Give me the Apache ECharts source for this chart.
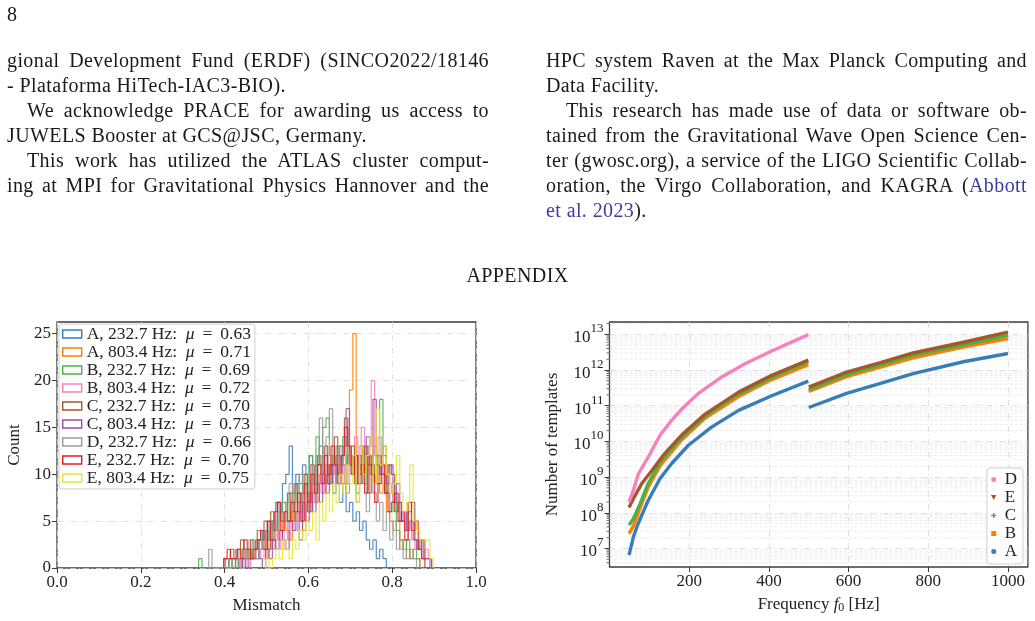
<!DOCTYPE html>
<html>
<head>
<meta charset="utf-8">
<script src="https://cdn.jsdelivr.net/npm/echarts@6/dist/echarts.min.js"></script>
<style>
  body { margin: 0; background: #fff; }
  #page { position: relative; width: 1035px; height: 621px; overflow: hidden; font-family: 'Liberation Serif', serif; color: #1a1a1a; }
  #chart { position: absolute; left: 0; top: 0; width: 1035px; height: 621px; }
  .ln { position: absolute; font-size: 20px; line-height: 25px; white-space: nowrap; letter-spacing: 0.4px; z-index: 2; }
  .j { text-align: justify; text-align-last: justify; white-space: normal; }
  .cite { color: #3b3ba3; }
</style>
</head>
<body>
<div id="page">
  <div id="chart"></div>

  <div class="ln" style="left:7px;top:1.5px">8</div>

  <!-- left column -->
  <div class="ln j" style="left:7px;top:47.5px;width:482px">gional Development Fund (ERDF) (SINCO2022/18146</div>
  <div class="ln" style="left:7px;top:72.5px">- Plataforma HiTech-IAC3-BIO).</div>
  <div class="ln j" style="left:27px;top:97.5px;width:462px">We acknowledge PRACE for awarding us access to</div>
  <div class="ln" style="left:7px;top:122.5px">JUWELS Booster at GCS@JSC, Germany.</div>
  <div class="ln j" style="left:27px;top:147.5px;width:462px">This work has utilized the ATLAS cluster comput-</div>
  <div class="ln j" style="left:7px;top:172.5px;width:482px">ing at MPI for Gravitational Physics Hannover and the</div>

  <!-- right column -->
  <div class="ln j" style="left:546px;top:47.5px;width:481px">HPC system Raven at the Max Planck Computing and</div>
  <div class="ln" style="left:546px;top:72.5px">Data Facility.</div>
  <div class="ln j" style="left:566px;top:97.5px;width:461px">This research has made use of data or software ob-</div>
  <div class="ln j" style="left:546px;top:122.5px;width:481px">tained from the Gravitational Wave Open Science Cen-</div>
  <div class="ln j" style="left:546px;top:147.5px;width:481px">ter (gwosc.org), a service of the LIGO Scientific Collab-</div>
  <div class="ln j" style="left:546px;top:172.5px;width:481px">oration, the Virgo Collaboration, and KAGRA (<span class="cite">Abbott</span></div>
  <div class="ln" style="left:546px;top:197.5px"><span class="cite">et al. 2023</span>).</div>

  <div class="ln" style="left:0;top:262.5px;width:1035px;text-align:center">APPENDIX</div>
</div>

<script>
// ---- left panel: mismatch histograms ----
const histNames = ['A, 232.7 Hz', 'A, 803.4 Hz', 'B, 232.7 Hz', 'B, 803.4 Hz', 'C, 232.7 Hz',
                   'C, 803.4 Hz', 'D, 232.7 Hz', 'E, 232.7 Hz', 'E, 803.4 Hz'];
const histMu = ['0.63', '0.71', '0.69', '0.72', '0.70', '0.73', '0.66', '0.70', '0.75'];
const histStart = [0.410, 0.402, 0.338, 0.430, 0.398, 0.442, 0.362, 0.398, 0.498];
const binWidth = 0.008;

const countsA232 = [1,0,1,0,1,2,1,2,3,2,4,3,5,4,7,6,9,10,13,8,10,9,11,10,12,9,11,13,10,9,11,8,10,7,9,6,7,5,6,4,5,3,2,3,1,2,1];
const countsA803 = [1,0,0,1,1,2,1,2,1,2,3,2,1,3,2,4,3,5,4,3,6,5,7,4,8,6,9,7,10,8,11,9,12,10,13,11,12,19,25,12,10,13,11,14,9,12,8,10,6,5,4,5,2,3,1,2,1,1];
const countsB232 = [1,0,0,0,0,0,0,0,0,1,0,1,0,2,1,1,2,1,3,2,4,3,5,4,6,7,5,8,7,9,6,10,8,12,9,14,11,15,16,12,10,13,11,14,9,12,10,8,11,9,12,10,13,11,18,12,8,6,7,4,3,2,3,1,2,1];
const countsB803 = [1,0,1,0,2,1,1,2,1,3,2,3,4,2,5,3,6,4,7,5,8,6,9,7,10,8,11,9,12,10,13,11,9,12,10,14,11,15,12,13,20,12,14,10,11,8,9,6,7,5,6,3,4,2,3,1,2,1];
const countsC232 = [1,1,2,1,2,3,2,1,3,2,4,3,5,2,6,4,7,5,6,8,5,9,7,8,10,6,11,9,12,10,13,9,11,14,10,12,16,11,13,9,12,10,13,8,11,9,12,10,8,11,10,6,7,5,4,6,7,3,2,3,1,1];
const countsC803 = [1,0,1,1,2,1,0,2,1,3,2,4,3,2,5,4,6,3,7,5,8,6,9,7,10,8,11,9,12,10,13,17,11,12,9,13,10,14,11,18,12,10,13,9,11,7,9,5,6,4,5,3,2,3,1,1];
const countsD232 = [2,0,0,0,0,1,0,1,2,1,2,1,3,2,1,3,2,4,3,5,4,6,5,7,9,6,8,10,7,9,11,8,12,16,10,14,17,12,9,13,11,8,12,10,7,11,9,6,10,8,5,7,4,6,3,5,2,3,1,2,1,1];
const countsE232 = [1,2,1,1,2,1,3,2,1,2,3,4,2,5,3,6,7,4,6,5,7,6,8,5,9,7,10,8,11,9,12,10,13,11,9,12,15,13,10,12,9,11,8,12,10,7,9,11,8,6,7,8,5,6,3,7,4,5,2,1];
const countsE803 = [1,0,1,2,1,3,2,1,3,2,4,3,5,4,6,3,7,5,8,6,9,7,10,8,11,9,12,7,13,10,12,14,9,17,11,13,10,8,9,12,8,6,7,11,5,4,3,3,3,1];
const histCounts = [countsA232, countsA803, countsB232, countsB803, countsC232,
                    countsC803, countsD232, countsE232, countsE803];
const histColors = ['#377eb8', '#ff7f00', '#4daf4a', '#f781bf', '#a65628',
                    '#984ea3', '#999999', '#e41a1c', '#e5e52e'];

// ---- right panel: number of templates vs frequency ----
const lowFreqA = [49, 60, 72, 97, 127, 156, 198, 256, 324, 407, 499];
const lowNA = [6.5e6, 2.1e7, 5.0e7, 2.2e8, 9.1e8, 2.4e9, 7.8e9, 2.5e10, 7.4e10, 1.9e11, 4.9e11];
const lowFreqB = [49, 60, 77, 97, 127, 181, 240, 324, 407, 499];
const lowNB = [2.6e7, 4.2e7, 1.4e8, 5.2e8, 2.1e9, 1.1e10, 4.5e10, 1.8e11, 5.4e11, 1.4e12];
const lowFreqC = [49, 60, 77, 97, 127, 181, 240, 324, 407, 499];
const lowNC = [4.5e7, 6.8e7, 1.8e8, 6.6e8, 2.6e9, 1.3e10, 5.1e10, 2.1e11, 6.2e11, 1.7e12];
const lowFreqD = [49, 60, 72, 97, 127, 156, 185, 223, 281, 340, 407, 499];
const lowND = [2.0e8, 4.3e8, 1.2e9, 3.6e9, 1.5e10, 3.9e10, 8.9e10, 2.2e11, 6.3e11, 1.5e12, 3.4e12, 9.8e12];
const lowFreqE = [49, 60, 81, 106, 135, 181, 240, 324, 407, 499];
const lowNE = [1.4e8, 2.5e8, 6.6e8, 1.5e9, 4.1e9, 1.5e10, 5.8e10, 2.4e11, 7.1e11, 1.9e12];
const highFreq = [500, 595, 680, 762, 888, 1000];
const highNA = [8.9e10, 2.2e11, 4.2e11, 7.9e11, 1.7e12, 2.9e12];
const highNB = [2.5e11, 6.5e11, 1.2e12, 2.2e12, 4.4e12, 7.6e12];
const highNC = [2.8e11, 7.4e11, 1.4e12, 2.6e12, 5.1e12, 9.3e12];
const highNE = [3.3e11, 8.7e11, 1.6e12, 3.0e12, 6.0e12, 1.15e13];
const yTicksRight = [1e7, 1e8, 1e9, 1e10, 1e11, 1e12, 1e13];
const xTicksRight = [200, 400, 600, 800, 1000];

const font = 'Liberation Serif';
const ink = '#222';
const frame = '#3c3c3c';

function stepData(x0, counts) {
  // outline of a step histogram: up at the first edge, down at the last
  const pts = [[x0, 0]];
  counts.forEach((c, i) => pts.push([x0 + i * binWidth, c]));
  pts.push([x0 + counts.length * binWidth, 0]);
  return pts;
}
function zipXY(xs, ys) { return xs.map((x, i) => [x, ys[i]]); }

const yMinR = Math.pow(10, 6.48);
const yMaxR = Math.pow(10, 13.345);
const minorTickValues = [];
[6, 7, 8, 9, 10, 11, 12, 13].forEach(d => [2, 3, 4, 5, 6, 7, 8, 9].forEach(m => {
  const v = m * Math.pow(10, d);
  if (v > yMinR && v < yMaxR) minorTickValues.push([0, v]);
}));

const histSeries = histNames.map((name, i) => ({
  name: name, type: 'line', xAxisIndex: 0, yAxisIndex: 0,
  step: 'end', symbol: 'none', z: 3,
  lineStyle: { color: histColors[i], width: 1.2, opacity: 0.85 },
  itemStyle: { color: histColors[i] },
  data: stepData(histStart[i], histCounts[i])
}));

const rightColors = { A: '#377eb8', B: '#ff7f00', C: '#4daf4a', D: '#f781bf', E: '#a65628' };
function curve(name, data) {
  return {
    name: name, type: 'line', xAxisIndex: 1, yAxisIndex: 1, symbol: 'none', z: 3,
    lineStyle: { color: rightColors[name], width: 3.4, join: 'round' },
    itemStyle: { color: rightColors[name] },
    data: data
  };
}
const rightSeries = [
  curve('A', zipXY(lowFreqA, lowNA)), curve('A', zipXY(highFreq, highNA)),
  curve('B', zipXY(lowFreqB, lowNB)), curve('B', zipXY(highFreq, highNB)),
  curve('C', zipXY(lowFreqC, lowNC)), curve('C', zipXY(highFreq, highNC)),
  curve('E', zipXY(lowFreqE, lowNE)), curve('E', zipXY(highFreq, highNE)),
  curve('D', zipXY(lowFreqD, lowND))
];

const minorSeries = {
  type: 'custom', xAxisIndex: 1, yAxisIndex: 1, silent: true, z: 1,
  encode: { x: 0, y: 1 },
  data: minorTickValues,
  renderItem: function (params, api) {
    const v = api.value(1);
    const p0 = api.coord([0, v]);
    const p1 = api.coord([1050, v]);
    return {
      type: 'group', children: [
        { type: 'line', shape: { x1: p0[0] - 3, y1: p0[1], x2: p0[0], y2: p0[1] }, style: { stroke: frame, lineWidth: 0.8 } },
        { type: 'line', shape: { x1: p0[0], y1: p0[1], x2: p1[0], y2: p1[1] }, style: { stroke: '#e4e4e4', lineWidth: 0.8, lineDash: [3, 2] } }
      ]
    };
  }
};

const axisCommon = {
  axisLine: { show: false },
  axisTick: { show: true, length: 5, lineStyle: { color: frame, width: 1 } },
  axisLabel: { color: ink, fontFamily: font, fontSize: 17, margin: 6 },
  splitLine: { show: true, lineStyle: { color: '#d9d9d9', width: 0.8, type: [6, 3, 1, 3] } },
  nameLocation: 'middle',
  nameTextStyle: { color: ink, fontFamily: font, fontSize: 17 }
};

const chart = echarts.init(document.getElementById('chart'));
chart.setOption({
  animation: false,
  textStyle: { fontFamily: font },
  grid: [
    { left: 57, top: 322, width: 419, height: 246, show: true, borderColor: frame, borderWidth: 1.3 },
    { left: 609.5, top: 322, width: 418.4, height: 245, show: true, borderColor: frame, borderWidth: 1.3 }
  ],
  xAxis: [
    Object.assign({}, axisCommon, {
      gridIndex: 0, type: 'value', min: 0, max: 1, interval: 0.2,
      axisLabel: Object.assign({}, axisCommon.axisLabel, { formatter: v => v.toFixed(1) }),
      name: 'Mismatch', nameGap: 29
    }),
    Object.assign({}, axisCommon, {
      gridIndex: 1, type: 'value', min: 0, max: 1050, interval: 200,
      axisTick: Object.assign({}, axisCommon.axisTick, { customValues: xTicksRight }),
      axisLabel: Object.assign({}, axisCommon.axisLabel, { customValues: xTicksRight, formatter: v => String(v) }),
      name: 'Frequency {i|f}{s|0} [Hz]', nameGap: 29,
      nameTextStyle: Object.assign({}, axisCommon.nameTextStyle, {
        rich: {
          i: { fontFamily: font, fontSize: 17, fontStyle: 'italic', color: ink },
          s: { fontFamily: font, fontSize: 12, color: ink, verticalAlign: 'bottom', padding: [6, 0, 0, 0] }
        }
      })
    })
  ],
  yAxis: [
    Object.assign({}, axisCommon, {
      gridIndex: 0, type: 'value', min: 0, max: 26.25, interval: 5,
      axisTick: Object.assign({}, axisCommon.axisTick, { customValues: [0, 5, 10, 15, 20, 25] }),
      axisLabel: Object.assign({}, axisCommon.axisLabel, { customValues: [0, 5, 10, 15, 20, 25] }),
      name: 'Count', nameGap: 34
    }),
    Object.assign({}, axisCommon, {
      gridIndex: 1, type: 'log', logBase: 10, min: yMinR, max: yMaxR,
      axisTick: Object.assign({}, axisCommon.axisTick, { customValues: yTicksRight }),
      axisLabel: Object.assign({}, axisCommon.axisLabel, {
        customValues: yTicksRight,
        formatter: v => '{b|10}{s|' + Math.round(Math.log10(v)) + '}',
        rich: {
          b: { fontFamily: font, fontSize: 17, color: ink, lineHeight: 24, verticalAlign: 'bottom' },
          s: { fontFamily: font, fontSize: 13, color: ink, lineHeight: 13, verticalAlign: 'top' }
        }
      }),
      name: 'Number of templates', nameGap: 48
    })
  ],
  legend: [
    {
      data: histNames.map((n, i) => ({
        name: n, icon: 'rect',
        itemStyle: { color: 'rgba(0,0,0,0)', borderColor: histColors[i], borderWidth: 1.4 }
      })),
      orient: 'vertical', left: 59, top: 324, itemWidth: 19, itemHeight: 8, itemGap: 0,
      padding: [1, 4, 2, 3],
      backgroundColor: 'rgba(255,255,255,0.85)', borderColor: '#cfcfcf', borderWidth: 1, borderRadius: 3,
      formatter: name => name + ':  {i|\u03bc}\u2009 = \u2009' + histMu[histNames.indexOf(name)],
      textStyle: {
        color: ink, fontFamily: font, fontSize: 17.5, lineHeight: 18,
        rich: { i: { fontFamily: font, fontSize: 17.5, fontStyle: 'italic', color: ink } }
      }
    },
    {
      data: [
        { name: 'D', icon: 'circle', itemStyle: { color: rightColors.D } },
        { name: 'E', icon: 'path://M0,0L10,0L5,9Z', itemStyle: { color: rightColors.E } },
        { name: 'C', icon: 'path://M3.5,0H6.5V3.5H10V6.5H6.5V10H3.5V6.5H0V3.5H3.5Z', itemStyle: { color: rightColors.C } },
        { name: 'B', icon: 'path://M0,0H10V10H0Z', itemStyle: { color: rightColors.B } },
        { name: 'A', icon: 'circle', itemStyle: { color: rightColors.A } }
      ],
      orient: 'vertical', right: 12, bottom: 57, itemWidth: 12, itemHeight: 5, itemGap: 1,
      padding: [3, 6, 4, 4],
      backgroundColor: 'rgba(255,255,255,0.85)', borderColor: '#cfcfcf', borderWidth: 1, borderRadius: 3,
      textStyle: { color: ink, fontFamily: font, fontSize: 17, lineHeight: 17 }
    }
  ],
  series: histSeries.concat([minorSeries], rightSeries)
});
</script>
</body>
</html>
